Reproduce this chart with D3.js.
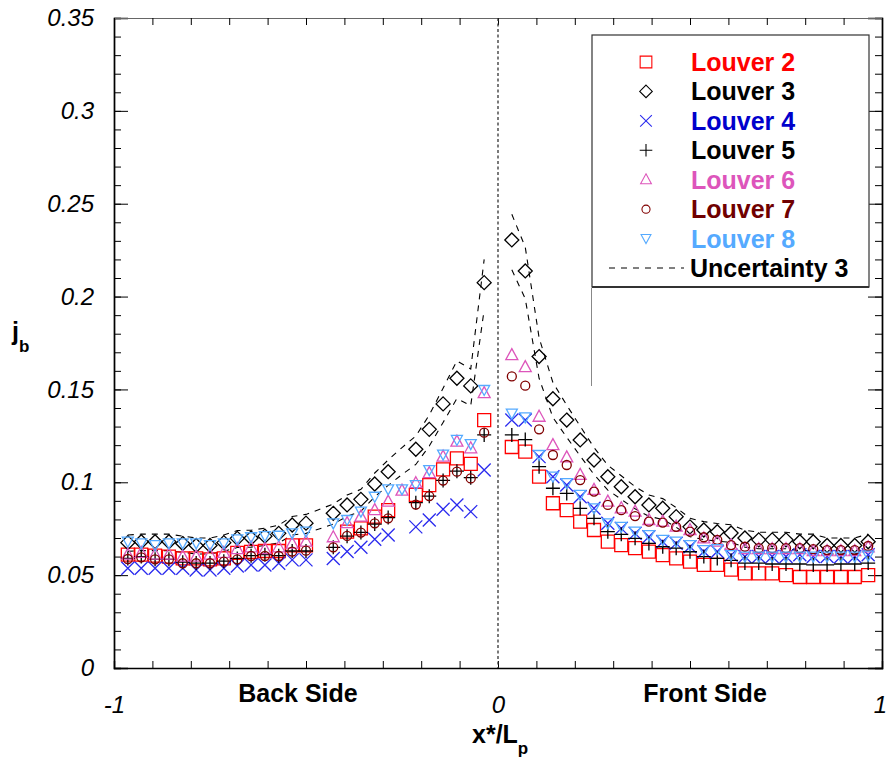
<!DOCTYPE html>
<html>
<head>
<meta charset="utf-8">
<script src="https://cdn.jsdelivr.net/npm/d3@7"></script>
<style>
  body { margin: 0; background: #fff; }
  svg { display: block; font-family: Arial, 'Liberation Sans', sans-serif; }
</style>
</head>
<body>
<div id="chart"></div>
<script>
// x*/Lp sample positions (back side < 0, front side > 0)
const xPos = [-0.964, -0.929, -0.893, -0.857, -0.821, -0.786, -0.750, -0.714, -0.679, -0.643, -0.607, -0.571, -0.536, -0.500,
  -0.464, -0.429, -0.393, -0.357, -0.321, -0.286, -0.250, -0.214, -0.179, -0.143, -0.107, -0.071, -0.036,
  0.036, 0.071, 0.107, 0.143, 0.179, 0.214, 0.250, 0.286, 0.321, 0.357, 0.393, 0.429, 0.464, 0.500,
  0.536, 0.571, 0.607, 0.643, 0.679, 0.714, 0.750, 0.786, 0.821, 0.857, 0.893, 0.929, 0.964]

const louver2 = [0.061, 0.061, 0.0605, 0.060, 0.059, 0.059, 0.0585, 0.059, 0.062, 0.0625, 0.063, 0.063, 0.066, 0.066,
  null, null, 0.0734, 0.0752, 0.0815, 0.085, null, 0.0932, 0.0985, 0.107, 0.1129, 0.1099, 0.1335,
  0.119, 0.1165, 0.103, 0.0887, 0.085, 0.0788, 0.0743, 0.068, 0.0662, 0.0645, 0.0627, 0.0608, 0.059, 0.0573,
  0.0555, 0.0555, 0.053, 0.051, 0.051, 0.051, 0.050, 0.049, 0.049, 0.049, 0.049, 0.049, 0.050]
const louver3 = [0.0675, 0.068, 0.068, 0.068, 0.067, 0.066, 0.066, 0.0675, 0.0698, 0.070, 0.071, 0.0725, 0.077, 0.078,
  null, 0.0833, 0.0878, 0.0908, 0.0991, 0.1057, null, 0.1178, 0.1285, 0.1422, 0.156, 0.1519, 0.2075,
  0.2305, 0.2138, 0.1677, 0.145, 0.1335, 0.1228, 0.112, 0.103, 0.0976, 0.0922, 0.0878, 0.086, 0.0815, 0.076,
  0.0743, 0.0734, 0.0727, 0.070, 0.069, 0.069, 0.069, 0.068, 0.068, 0.066, 0.066, 0.066, 0.068]
const louver4 = [0.0537, 0.0537, 0.0537, 0.0537, 0.0537, 0.0528, 0.0528, 0.0537, 0.0549, 0.0555, 0.0555, 0.0564, 0.0582, 0.0582,
  null, 0.059, 0.0627, 0.065, 0.0693, 0.0716, null, 0.076, 0.0797, 0.0855, 0.0878, 0.0842, 0.1066,
  0.1335, 0.1335, 0.1138, 0.103, 0.0985, 0.0922, 0.086, 0.0779, 0.0752, 0.0725, 0.0707, 0.068, 0.0671, 0.0653,
  0.0627, 0.0627, 0.0608, 0.060, 0.060, 0.060, 0.060, 0.061, 0.060, 0.060, 0.060, 0.060, 0.061]
const louver5 = [0.059, 0.060, 0.0585, 0.0585, 0.057, 0.0565, 0.0565, 0.0575, 0.059, 0.0605, 0.061, 0.0605, 0.063, 0.063,
  null, 0.065, 0.071, 0.073, 0.0775, 0.081, null, 0.089, 0.0925, 0.101, 0.106, 0.1025, 0.1255,
  0.1255, 0.123, 0.1084, 0.0968, 0.094, 0.086, 0.0806, 0.0734, 0.072, 0.0698, 0.0671, 0.0653, 0.0645, 0.0626,
  0.060, 0.059, 0.058, 0.0565, 0.0565, 0.056, 0.056, 0.056, 0.0555, 0.0555, 0.056, 0.056, 0.0565]
const louver6 = [0.061, 0.062, 0.061, 0.061, 0.060, 0.060, 0.061, 0.062, 0.064, 0.065, 0.064, 0.065, 0.067, 0.068,
  null, 0.0704, 0.078, 0.0815, 0.085, 0.0896, 0.0955, 0.0995, 0.1049, 0.1138, 0.1219, 0.1183, 0.148,
  0.1685, 0.162, 0.1353, 0.120, 0.1134, 0.104, 0.0959, 0.0896, 0.086, 0.0842, 0.0797, 0.0788, 0.0761, 0.0743,
  0.0698, 0.068, 0.066, 0.064, 0.064, 0.064, 0.064, 0.064, 0.063, 0.063, 0.063, 0.063, 0.065]
const louver7 = [0.0587, 0.0596, 0.0585, 0.0585, 0.0564, 0.0564, 0.0564, 0.0573, 0.0585, 0.0603, 0.0603, 0.0603, 0.0627, 0.0632,
  null, 0.065, 0.0711, 0.0729, 0.0779, 0.0806, null, 0.088, 0.0926, 0.1009, 0.1057, 0.1021, 0.1267,
  0.157, 0.152, 0.1285, 0.1147, 0.1093, 0.1012, 0.095, 0.0878, 0.085, 0.0818, 0.0788, 0.0783, 0.076, 0.0734,
  0.0704, 0.069, 0.0662, 0.0653, 0.0645, 0.0645, 0.0645, 0.0645, 0.064, 0.0635, 0.0635, 0.0635, 0.0657]
const louver8 = [0.068, 0.0671, 0.0662, 0.0671, 0.0671, 0.0671, 0.0662, 0.0671, 0.0693, 0.0704, 0.071, 0.0712, 0.0725, 0.0734,
  null, 0.0779, 0.0797, 0.0842, 0.0922, 0.0962, 0.0962, 0.0985, 0.1066, 0.1149, 0.1228, 0.1206, 0.1497,
  0.137, 0.135, 0.1147, 0.103, 0.0995, 0.0932, 0.086, 0.0779, 0.076, 0.0734, 0.0716, 0.069, 0.068, 0.0662,
  0.0635, 0.064, 0.0608, 0.060, 0.060, 0.060, 0.060, 0.060, 0.060, 0.060, 0.060, 0.060, 0.0605]

// uncertainty band of louver 3 (upper and lower dashed curves)
const unc3Upper = [0.0716, 0.0721, 0.0721, 0.0721, 0.0710, 0.0700, 0.0700, 0.0716, 0.0740, 0.0742, 0.0753, 0.0769, 0.0816, 0.0827,
  0.0855, 0.0883, 0.0931, 0.0962, 0.1050, 0.1120, 0.1187, 0.1249, 0.1362, 0.1507, 0.1654, 0.1610, 0.2200,
  0.2443, 0.2266, 0.1778, 0.1537, 0.1415, 0.1302, 0.1187, 0.1092, 0.1035, 0.0977, 0.0931, 0.0912, 0.0864, 0.0806,
  0.0788, 0.0778, 0.0771, 0.0742, 0.0731, 0.0731, 0.0731, 0.0721, 0.0721, 0.0700, 0.0700, 0.0700, 0.0721]
const unc3Lower = [0.0628, 0.0632, 0.0632, 0.0632, 0.0623, 0.0614, 0.0614, 0.0628, 0.0649, 0.0651, 0.0660, 0.0674, 0.0716, 0.0725,
  0.0750, 0.0775, 0.0817, 0.0844, 0.0922, 0.0983, 0.1042, 0.1096, 0.1195, 0.1322, 0.1451, 0.1413, 0.1930,
  0.2144, 0.1988, 0.1560, 0.1349, 0.1242, 0.1142, 0.1042, 0.0958, 0.0908, 0.0857, 0.0817, 0.0800, 0.0758, 0.0707,
  0.0691, 0.0683, 0.0676, 0.0651, 0.0642, 0.0642, 0.0642, 0.0632, 0.0632, 0.0614, 0.0614, 0.0614, 0.0632]

const seriesNames = ['Louver 2', 'Louver 3', 'Louver 4', 'Louver 5', 'Louver 6', 'Louver 7', 'Louver 8']
const yTicks = [0, 0.05, 0.1, 0.15, 0.2, 0.25, 0.3, 0.35]
const xTicks = [-1, 0, 1]

const width = 890
const height = 763
const plot = { left: 114, right: 882, top: 18, bottom: 668 }

const svg = d3.select('#chart')
  .append('svg')
  .attr('width', width)
  .attr('height', height)

const x = d3.scaleLinear().domain([-1, 1]).range([plot.left, plot.right])
const y = d3.scaleLinear().domain([0, 0.35]).range([plot.bottom, plot.top])

// marker shapes, centred on 0,0
const shapes = {
  square: 'M-6.5,-6.5H6.5V6.5H-6.5Z',
  diamond: 'M0,-7L7,0L0,7L-7,0Z',
  cross: 'M-6.5,-6.5L6.5,6.5M-6.5,6.5L6.5,-6.5',
  plus: 'M-7,0H7M0,-7V7',
  triUp: 'M0,-6.5L6,4.5L-6,4.5Z',
  circle: 'M4.5,0A4.5,4.5,0,1,1,-4.5,0A4.5,4.5,0,1,1,4.5,0Z',
  triDown: 'M-5.5,-4.5H5.5L0,5.5Z'
}

const series = [
  { name: seriesNames[0], values: louver2, shape: 'square', color: '#ff0000', text: '#ff0000' },
  { name: seriesNames[1], values: louver3, shape: 'diamond', color: '#000000', text: '#000000' },
  { name: seriesNames[2], values: louver4, shape: 'cross', color: '#2a2aee', text: '#0000cc' },
  { name: seriesNames[3], values: louver5, shape: 'plus', color: '#000000', text: '#000000' },
  { name: seriesNames[4], values: louver6, shape: 'triUp', color: '#dd55bb', text: '#dd55bb' },
  { name: seriesNames[5], values: louver7, shape: 'circle', color: '#800000', text: '#700000' },
  { name: seriesNames[6], values: louver8, shape: 'triDown', color: '#55aaff', text: '#55aaff' }
]

// axes: minor ticks everywhere, longer majors on y
const yMinor = d3.range(0, 0.3501, 0.01)
const xMinor = d3.range(-1, 1.0001, 0.1)

function tickAxis(axis, values, size) {
  return axis.tickValues(values).tickSize(size).tickFormat('')
}

svg.append('g')
  .attr('transform', `translate(${plot.left},0)`)
  .call(tickAxis(d3.axisLeft(y), yMinor, -7))
svg.append('g')
  .attr('transform', `translate(${plot.left},0)`)
  .call(d3.axisLeft(y).tickValues(yTicks).tickSize(-14).tickPadding(20)
    .tickFormat(d => d === 0 ? '0' : String(+d.toFixed(2))))
svg.append('g')
  .attr('transform', `translate(${plot.right},0)`)
  .call(tickAxis(d3.axisRight(y), yMinor, -7))
svg.append('g')
  .attr('transform', `translate(${plot.right},0)`)
  .call(tickAxis(d3.axisRight(y), yTicks, -14))
svg.append('g')
  .attr('transform', `translate(0,${plot.bottom})`)
  .call(tickAxis(d3.axisBottom(x), xMinor, -7))
svg.append('g')
  .attr('class', 'xlabels')
  .attr('transform', `translate(0,${plot.bottom})`)
  .call(d3.axisBottom(x).tickValues(xTicks).tickSize(0).tickPadding(28).tickFormat(d => String(d)))
svg.append('g')
  .attr('class', 'top')
  .attr('transform', `translate(0,${plot.top})`)
  .call(tickAxis(d3.axisTop(x), xMinor, -7))

svg.selectAll('.domain').attr('stroke', '#000').attr('stroke-width', 1.4)
svg.select('.top .domain').attr('stroke', '#666').attr('stroke-width', 1)
svg.select('.xlabels .domain').remove()
svg.selectAll('.tick line').attr('stroke', '#000').attr('stroke-width', 1)
svg.selectAll('.tick text')
  .attr('fill', '#000')
  .style('font-size', '24px')
  .style('font-style', 'italic')
  .style('font-family', 'Arial, Liberation Sans, sans-serif')
svg.selectAll('.xlabels .tick').filter(d => d === 1).select('text').attr('dx', -2)

// dotted centre line at x = 0
svg.append('line')
  .attr('x1', x(0)).attr('x2', x(0))
  .attr('y1', plot.top).attr('y2', plot.bottom)
  .attr('stroke', '#333')
  .attr('stroke-width', 1.3)
  .attr('stroke-dasharray', '3,2.5')

// uncertainty dashed curves, back and front drawn separately
const line = d3.line()
  .x(d => x(d[0]))
  .y(d => y(d[1]))

;[unc3Upper, unc3Lower].forEach(vals => {
  const pts = xPos.map((v, i) => [v, vals[i]])
  ;[pts.filter(p => p[0] < 0), pts.filter(p => p[0] > 0)].forEach(part => {
    svg.append('path')
      .datum(part)
      .attr('d', line)
      .attr('fill', 'none')
      .attr('stroke', '#000')
      .attr('stroke-width', 1.1)
      .attr('stroke-dasharray', '6,6')
  })
})

// markers
series.forEach(s => {
  const pts = xPos.map((v, i) => [v, s.values[i]]).filter(p => p[1] != null)
  svg.append('g')
    .selectAll('path')
    .data(pts)
    .enter()
    .append('path')
    .attr('d', shapes[s.shape])
    .attr('transform', d => `translate(${x(d[0])},${y(d[1])})`)
    .attr('fill', 'none')
    .attr('stroke', s.color)
    .attr('stroke-width', 1.3)
})

// side labels and axis titles
svg.append('text')
  .attr('x', 298).attr('y', 702)
  .attr('text-anchor', 'middle')
  .style('font-size', '25px').style('font-weight', 'bold')
  .text('Back Side')
svg.append('text')
  .attr('x', 705).attr('y', 702)
  .attr('text-anchor', 'middle')
  .style('font-size', '25px').style('font-weight', 'bold')
  .text('Front Side')

const xTitle = svg.append('text')
  .attr('x', 472).attr('y', 743)
  .style('font-size', '25px').style('font-weight', 'bold')
xTitle.append('tspan').text('x*/L')
xTitle.append('tspan').attr('dy', 11).style('font-size', '17px').text('p')

const yTitle = svg.append('text')
  .attr('x', 12).attr('y', 340)
  .style('font-size', '25px').style('font-weight', 'bold')
yTitle.append('tspan').text('j')
yTitle.append('tspan').attr('dy', 12).style('font-size', '17px').text('b')

// legend
const legend = svg.append('g')
legend.append('rect')
  .attr('x', 592).attr('y', 35)
  .attr('width', 277).attr('height', 252)
  .attr('fill', '#fff')
  .attr('stroke', '#333')
  .attr('stroke-width', 1.2)
legend.append('line')
  .attr('x1', 592).attr('x2', 869)
  .attr('y1', 287).attr('y2', 287)
  .attr('stroke', '#333').attr('stroke-width', 2)
legend.append('line')
  .attr('x1', 591.5).attr('x2', 591.5)
  .attr('y1', 288).attr('y2', 386)
  .attr('stroke', '#888').attr('stroke-width', 1)

const rowY = d3.scaleLinear().domain([0, 7]).range([62, 268])

series.forEach((s, i) => {
  legend.append('path')
    .attr('d', shapes[s.shape])
    .attr('transform', `translate(646,${rowY(i)}) scale(0.9)`)
    .attr('fill', 'none')
    .attr('stroke', s.color)
    .attr('stroke-width', 1.2)
  legend.append('text')
    .attr('x', 691).attr('y', rowY(i) + 9)
    .attr('fill', s.text)
    .style('font-size', '25px').style('font-weight', 'bold')
    .text(s.name)
})
legend.append('line')
  .attr('x1', 609).attr('x2', 684)
  .attr('y1', rowY(7)).attr('y2', rowY(7))
  .attr('stroke', '#000')
  .attr('stroke-dasharray', '6,6')
legend.append('text')
  .attr('x', 690).attr('y', rowY(7) + 9)
  .style('font-size', '25px').style('font-weight', 'bold')
  .text('Uncertainty 3')
</script>
</body>
</html>
